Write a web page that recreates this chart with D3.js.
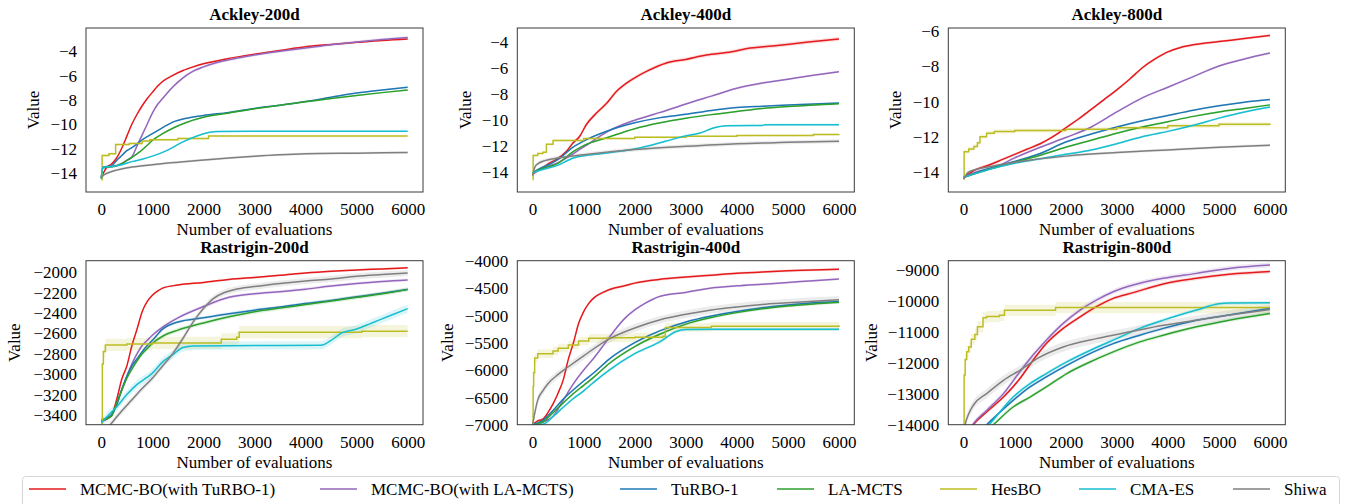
<!DOCTYPE html>
<html><head><meta charset="utf-8">
<script src="https://cdn.jsdelivr.net/npm/d3@7"></script>
<style>
body{margin:0;background:#fff}
svg{display:block}
</style>
</head><body>
<svg id="c" width="1345" height="504"></svg>
<script>
// ---------------- DATA ----------------
const methods = ["MCMC-BO(with TuRBO-1)","MCMC-BO(with LA-MCTS)","TuRBO-1","LA-MCTS","HesBO","CMA-ES","Shiwa"];
const colors  = ["#e41a1c","#9467bd","#1f77b4","#2ca02c","#bcbd22","#17becf","#7f7f7f"];
const xTicks = [0,1000,2000,3000,4000,5000,6000];
const xLim = [-300, 6300];
const titles = ["Ackley-200d","Ackley-400d","Ackley-800d","Rastrigin-200d","Rastrigin-400d","Rastrigin-800d"];

const yTicksA200 = [-14,-12,-10,-8,-6,-4];
const yTicksA400 = [-14,-12,-10,-8,-6,-4];
const yTicksA800 = [-14,-12,-10,-8,-6];
const yTicksR200 = [-3400,-3200,-3000,-2800,-2600,-2400,-2200,-2000];
const yTicksR400 = [-7000,-6500,-6000,-5500,-5000,-4500,-4000];
const yTicksR800 = [-14000,-13000,-12000,-11000,-10000,-9000];

const yLimA200 = [-15.6, -2.1];
const yLimA400 = [-15.56, -2.97];
const yLimA800 = [-15.13, -5.85];
const yLimR200 = [-3494, -1892];
const yLimR400 = [-7000, -4000];
const yLimR800 = [-14000, -8722];

// Ackley-200d
const a200Red    = [[0,-14.4],[100,-13.6],[200,-13.3],[300,-12.8],[400,-12.0],[500,-11.0],[600,-10.0],[700,-9.2],[800,-8.5],[900,-7.9],[1000,-7.4],[1100,-6.9],[1200,-6.5],[1400,-6.0],[1600,-5.6],[1800,-5.3],[2000,-5.05],[2500,-4.6],[3000,-4.25],[3500,-3.95],[4000,-3.65],[4500,-3.45],[5000,-3.28],[5500,-3.12],[6000,-3.0]];
const a200Purple = [[0,-14.4],[30,-13.6],[200,-13.5],[400,-13.3],[500,-13.0],[600,-12.7],[700,-11.8],[800,-10.9],[900,-10.0],[1000,-9.1],[1100,-8.4],[1200,-7.9],[1300,-7.4],[1400,-6.95],[1600,-6.2],[1800,-5.65],[2000,-5.3],[2300,-4.9],[2700,-4.55],[3000,-4.33],[3500,-4.02],[4000,-3.75],[4500,-3.47],[5000,-3.25],[5500,-3.05],[6000,-2.88]];
const a200Blue   = [[0,-14.5],[30,-13.55],[200,-13.45],[300,-13.0],[400,-12.6],[500,-12.2],[600,-11.95],[800,-11.3],[1000,-10.8],[1200,-10.3],[1400,-9.85],[1700,-9.5],[2000,-9.3],[2500,-9.05],[3000,-8.72],[3500,-8.45],[4000,-8.15],[4500,-7.8],[5000,-7.45],[5500,-7.2],[6000,-6.98]];
const a200Green  = [[0,-14.5],[30,-13.6],[250,-13.5],[400,-13.25],[500,-13.0],[600,-12.75],[750,-12.3],[900,-11.75],[1000,-11.35],[1200,-10.8],[1400,-10.35],[1650,-9.9],[2000,-9.45],[2500,-9.1],[3000,-8.75],[3500,-8.45],[4000,-8.18],[4500,-7.9],[5000,-7.65],[5500,-7.42],[6000,-7.21]];
const a200Olive  = [[0,-14.6],[15,-12.6],[150,-12.45],[280,-11.7],[550,-11.6],[800,-11.4],[950,-11.3],[1500,-11.2],[2100,-11.0],[6000,-11.0]];
const a200Cyan   = [[0,-14.5],[30,-13.55],[200,-13.5],[400,-13.35],[600,-13.1],[800,-12.9],[1000,-12.65],[1300,-12.15],[1600,-11.47],[1900,-10.95],[2100,-10.7],[2300,-10.62],[3000,-10.6],[6000,-10.6]];
const a200Gray   = [[0,-14.4],[50,-14.2],[150,-14.0],[300,-13.8],[600,-13.55],[1000,-13.35],[1500,-13.15],[2000,-12.97],[2500,-12.8],[3000,-12.65],[3500,-12.53],[4000,-12.45],[5000,-12.4],[6000,-12.35]];
const a200Spread = [0.08,0.12,0.06,0.06,0.1,0.06,0.1];

// Ackley-400d
const a400Red    = [[0,-14.2],[100,-13.9],[200,-13.7],[330,-13.35],[470,-13.05],[660,-12.45],[790,-11.8],[920,-11.3],[1050,-10.4],[1250,-9.5],[1450,-8.75],[1640,-7.85],[1840,-7.2],[2040,-6.7],[2230,-6.3],[2620,-5.65],[3000,-5.38],[3400,-5.05],[3900,-4.8],[4200,-4.55],[4700,-4.35],[5400,-4.05],[6000,-3.82]];
const a400Purple = [[0,-14.2],[100,-13.9],[500,-13.3],[1000,-12.1],[1500,-10.85],[2000,-10.05],[2500,-9.45],[3000,-8.8],[3500,-8.2],[4000,-7.6],[4500,-7.2],[5000,-6.9],[5500,-6.6],[6000,-6.32]];
const a400Blue   = [[0,-14.1],[100,-13.85],[500,-13.05],[800,-12.1],[1000,-11.65],[1450,-10.9],[2000,-10.25],[2500,-9.85],[3000,-9.6],[3500,-9.3],[4000,-9.08],[4500,-8.97],[5000,-8.88],[6000,-8.73]];
const a400Green  = [[0,-14.1],[100,-13.9],[500,-13.35],[800,-12.45],[1000,-12.0],[1450,-11.4],[2000,-10.7],[2500,-10.25],[3000,-9.9],[3500,-9.62],[4000,-9.38],[4500,-9.15],[5000,-9.0],[6000,-8.78]];
const a400Olive  = [[0,-14.6],[10,-12.75],[100,-12.6],[200,-12.5],[270,-11.9],[400,-11.6],[1000,-11.45],[2000,-11.35],[3000,-11.28],[4000,-11.22],[5500,-11.15],[6000,-11.12]];
const a400Cyan   = [[0,-14.1],[100,-13.95],[500,-13.5],[800,-12.95],[1450,-12.57],[2100,-12.18],[2600,-11.67],[2950,-11.29],[3280,-11.03],[3540,-10.65],[3800,-10.47],[4500,-10.45],[4550,-10.4],[6000,-10.39]];
const a400Gray   = [[0,-14.3],[50,-13.6],[100,-13.4],[200,-13.2],[500,-12.95],[1000,-12.7],[2000,-12.3],[3000,-12.05],[4000,-11.85],[5000,-11.75],[6000,-11.67]];
const a400Spread = [0.15,0.08,0.06,0.06,0.08,0.08,0.15];

// Ackley-800d
const a800Red    = [[0,-14.3],[250,-13.85],[500,-13.6],[750,-13.3],[1000,-13.0],[1250,-12.7],[1500,-12.4],[1750,-12.0],[2000,-11.5],[2250,-11.0],[2500,-10.45],[2750,-9.9],[3000,-9.35],[3250,-8.75],[3500,-8.1],[3750,-7.6],[4000,-7.2],[4250,-6.95],[4500,-6.8],[5000,-6.62],[5500,-6.45],[6000,-6.27]];
const a800Purple = [[0,-14.3],[300,-13.95],[600,-13.75],[1000,-13.2],[1500,-12.6],[2000,-12.05],[2500,-11.45],[3000,-10.6],[3500,-9.8],[4000,-9.2],[4500,-8.6],[5000,-8.0],[5500,-7.6],[6000,-7.27]];
const a800Blue   = [[0,-14.3],[500,-13.8],[1000,-13.4],[1500,-12.95],[2000,-12.3],[2500,-11.85],[3000,-11.45],[3500,-11.1],[4000,-10.8],[4500,-10.5],[5000,-10.25],[5500,-10.05],[6000,-9.9]];
const a800Green  = [[0,-14.3],[500,-13.85],[1000,-13.45],[1500,-13.05],[2000,-12.6],[2500,-12.2],[3000,-11.8],[3500,-11.45],[4000,-11.15],[4500,-10.85],[5000,-10.6],[5500,-10.4],[6000,-10.2]];
const a800Olive  = [[0,-14.4],[10,-12.85],[100,-12.7],[200,-12.55],[270,-12.35],[320,-12.0],[450,-11.8],[600,-11.7],[1000,-11.65],[2000,-11.58],[3000,-11.5],[4000,-11.38],[5000,-11.3],[6000,-11.25]];
const a800Cyan   = [[0,-14.3],[500,-13.85],[1000,-13.5],[1500,-13.25],[2000,-13.0],[2500,-12.75],[3000,-12.4],[3500,-12.0],[4000,-11.7],[4500,-11.35],[5000,-10.95],[5500,-10.6],[6000,-10.32]];
const a800Gray   = [[0,-14.4],[100,-14.0],[500,-13.7],[1000,-13.45],[2000,-13.1],[3000,-12.9],[4000,-12.75],[5000,-12.6],[6000,-12.48]];
const a800Spread = [0.08,0.06,0.05,0.05,0.12,0.06,0.08];

// Rastrigin-200d
const r200Red    = [[0,-3460],[200,-3400],[300,-3250],[400,-3050],[500,-2920],[600,-2720],[700,-2560],[800,-2390],[900,-2290],[1000,-2230],[1100,-2190],[1200,-2160],[1500,-2130],[2000,-2105],[2500,-2075],[3000,-2055],[3500,-2035],[4000,-2012],[4500,-1995],[5000,-1982],[5500,-1972],[6000,-1962]];
const r200Purple = [[0,-3460],[200,-3400],[300,-3300],[400,-3150],[500,-3020],[600,-2900],[700,-2800],[800,-2720],[900,-2670],[1000,-2620],[1200,-2540],[1500,-2450],[2000,-2340],[2500,-2250],[3000,-2215],[3500,-2195],[4000,-2170],[4500,-2140],[5000,-2115],[5500,-2095],[6000,-2080]];
const r200Blue   = [[0,-3450],[200,-3400],[300,-3300],[400,-3150],[500,-3020],[600,-2920],[700,-2850],[800,-2780],[900,-2720],[1000,-2670],[1200,-2560],[1500,-2490],[2000,-2450],[2500,-2410],[3000,-2375],[3500,-2345],[4000,-2310],[4500,-2280],[5000,-2245],[5500,-2210],[6000,-2172]];
const r200Green  = [[0,-3450],[200,-3410],[300,-3280],[400,-3160],[500,-3040],[600,-2950],[700,-2870],[800,-2800],[900,-2750],[1000,-2700],[1200,-2630],[1500,-2570],[2000,-2500],[2500,-2440],[3000,-2390],[3500,-2355],[4000,-2320],[4500,-2285],[5000,-2250],[5500,-2215],[6000,-2172]];
const r200Olive  = [[0,-3480],[20,-2900],[40,-2780],[80,-2715],[500,-2705],[1000,-2695],[2350,-2660],[2650,-2640],[2700,-2590],[5100,-2580],[6000,-2580]];
const r200Cyan   = [[0,-3480],[100,-3420],[300,-3320],[500,-3200],[700,-3100],[900,-3030],[1000,-2990],[1200,-2880],[1400,-2810],[1600,-2740],[1800,-2725],[2500,-2722],[3500,-2720],[4300,-2718],[4500,-2670],[4700,-2600],[5000,-2560],[5300,-2500],[5600,-2440],[6000,-2360]];
const r200Gray   = [[0,-3620],[200,-3480],[400,-3360],[600,-3250],[800,-3140],[1000,-3040],[1200,-2920],[1400,-2800],[1600,-2650],[1800,-2490],[2000,-2360],[2200,-2260],[2400,-2205],[2600,-2175],[3000,-2145],[3500,-2115],[4000,-2090],[4500,-2070],[5000,-2045],[5500,-2028],[6000,-2012]];
const r200Spread = [10,15,15,20,60,40,30];

// Rastrigin-400d
const r400Red    = [[0,-7000],[100,-6930],[200,-6900],[300,-6780],[400,-6620],[500,-6420],[600,-6180],[700,-5800],[800,-5500],[900,-5150],[1000,-4930],[1100,-4780],[1200,-4680],[1400,-4570],[1600,-4500],[1800,-4460],[2000,-4410],[2500,-4340],[3000,-4300],[3500,-4265],[4000,-4230],[4500,-4205],[5000,-4185],[5500,-4170],[6000,-4155]];
const r400Purple = [[0,-7000],[200,-6950],[400,-6850],[600,-6550],[800,-6250],[1000,-6000],[1200,-5780],[1400,-5530],[1600,-5280],[1800,-5060],[2000,-4900],[2200,-4780],[2500,-4650],[3000,-4580],[3500,-4500],[4000,-4460],[4500,-4430],[5000,-4400],[5500,-4365],[6000,-4337]];
const r400Blue   = [[0,-7000],[200,-6920],[400,-6740],[600,-6530],[800,-6360],[1000,-6200],[1200,-6050],[1500,-5800],[2000,-5500],[2500,-5280],[3000,-5120],[3500,-5010],[4000,-4930],[4500,-4860],[5000,-4810],[5500,-4770],[6000,-4745]];
const r400Green  = [[0,-7000],[200,-6950],[400,-6780],[600,-6600],[800,-6430],[1000,-6280],[1200,-6130],[1500,-5880],[2000,-5570],[2500,-5340],[3000,-5160],[3500,-5040],[4000,-4950],[4500,-4880],[5000,-4830],[5500,-4790],[6000,-4760]];
const r400Olive  = [[0,-7000],[10,-6300],[20,-6050],[40,-5780],[100,-5700],[400,-5650],[500,-5600],[700,-5540],[900,-5470],[1100,-5420],[1500,-5410],[2000,-5400],[2550,-5380],[2600,-5220],[3500,-5200],[6000,-5180]];
const r400Cyan   = [[0,-7000],[200,-6990],[400,-6850],[600,-6680],[800,-6520],[1000,-6380],[1200,-6220],[1500,-6000],[2000,-5700],[2500,-5480],[2800,-5300],[3000,-5260],[3500,-5255],[6000,-5255]];
const r400Gray   = [[0,-7000],[50,-6750],[100,-6550],[200,-6380],[300,-6250],[500,-6080],[700,-5940],[1000,-5740],[1500,-5430],[2000,-5230],[2500,-5080],[3000,-4980],[3500,-4900],[4000,-4845],[4500,-4800],[5000,-4770],[5500,-4740],[6000,-4716]];
const r400Spread = [25,20,20,25,80,30,70];

// Rastrigin-800d
const r800Red    = [[0,-14500],[200,-13980],[450,-13590],[780,-13110],[1100,-12520],[1360,-11925],[1620,-11390],[1950,-10900],[2280,-10530],[2600,-10200],[2930,-9935],[3320,-9750],[3910,-9470],[4560,-9290],[5200,-9160],[6000,-9070]];
const r800Purple = [[0,-14500],[200,-13950],[450,-13540],[780,-13000],[1100,-12300],[1360,-11760],[1620,-11280],[1950,-10740],[2280,-10310],[2600,-9990],[2930,-9720],[3320,-9505],[3910,-9290],[4560,-9130],[5200,-8970],[6000,-8860]];
const r800Blue   = [[0,-14700],[450,-14000],[970,-13215],[1300,-12785],[1620,-12460],[2020,-12090],[2410,-11760],[2930,-11390],[3450,-11120],[3910,-10900],[4560,-10635],[5200,-10470],[6000,-10258]];
const r800Green  = [[0,-14800],[580,-14000],[970,-13430],[1300,-13110],[1620,-12785],[2020,-12355],[2410,-12030],[2930,-11655],[3450,-11335],[3910,-11120],[4560,-10850],[5200,-10635],[6000,-10420]];
const r800Olive  = [[0,-14500],[10,-12400],[30,-11900],[60,-11650],[100,-11500],[150,-11250],[220,-11100],[270,-10850],[380,-10560],[450,-10520],[700,-10480],[800,-10320],[1800,-10230],[6000,-10230]];
const r800Cyan   = [[0,-14800],[500,-14000],[970,-13110],[1300,-12680],[1620,-12355],[2020,-11980],[2410,-11660],[2930,-11280],[3450,-10900],[3910,-10635],[4560,-10310],[5000,-10110],[5200,-10085],[6000,-10075]];
const r800Gray   = [[0,-14300],[30,-14000],[100,-13650],[200,-13350],[450,-13000],[780,-12570],[1100,-12250],[1500,-11820],[1950,-11500],[2600,-11230],[3260,-11010],[3910,-10800],[4560,-10635],[5200,-10470],[6000,-10290]];
const r800Spread = [60,80,50,60,180,60,150];

// ---------------- LAYOUT ----------------
const colLeft = [86, 517.3, 948.3];
const rowTop  = [28, 260.7];
const PW = 337, PH = 164;
const yLabelX = [[33,465,895],[14,447,871]];
const stepSeries = 4; // HesBO drawn as steps
const FONT = "Liberation Serif";
const FS = 17;

const panels = [
  {title:titles[0], ticks:yTicksA200, lim:yLimA200, series:[a200Red,a200Purple,a200Blue,a200Green,a200Olive,a200Cyan,a200Gray], spread:a200Spread},
  {title:titles[1], ticks:yTicksA400, lim:yLimA400, series:[a400Red,a400Purple,a400Blue,a400Green,a400Olive,a400Cyan,a400Gray], spread:a400Spread},
  {title:titles[2], ticks:yTicksA800, lim:yLimA800, series:[a800Red,a800Purple,a800Blue,a800Green,a800Olive,a800Cyan,a800Gray], spread:a800Spread},
  {title:titles[3], ticks:yTicksR200, lim:yLimR200, series:[r200Red,r200Purple,r200Blue,r200Green,r200Olive,r200Cyan,r200Gray], spread:r200Spread},
  {title:titles[4], ticks:yTicksR400, lim:yLimR400, series:[r400Red,r400Purple,r400Blue,r400Green,r400Olive,r400Cyan,r400Gray], spread:r400Spread},
  {title:titles[5], ticks:yTicksR800, lim:yLimR800, series:[r800Red,r800Purple,r800Blue,r800Green,r800Olive,r800Cyan,r800Gray], spread:r800Spread}
];

const svg = d3.select("#c");
const defs = svg.append("defs");

panels.forEach((p, i) => {
  const r = Math.floor(i / 3), c = i % 3;
  const left = colLeft[c], top = rowTop[r];
  const x = d3.scaleLinear().domain(xLim).range([left, left + PW]);
  const y = d3.scaleLinear().domain(p.lim).range([top + PH, top]);
  const g = svg.append("g");

  const clipId = "clip" + i;
  defs.append("clipPath").attr("id", clipId)
    .append("rect").attr("x", left).attr("y", top).attr("width", PW).attr("height", PH);

  const plot = g.append("g").attr("clip-path", `url(#${clipId})`);

  p.series.forEach((s, k) => {
    const curve = k === stepSeries ? d3.curveStepAfter : d3.curveMonotoneX;
    const sp = p.spread[k];
    const area = d3.area().x(d => x(d[0])).y0(d => y(d[1] - sp)).y1(d => y(d[1] + sp)).curve(curve);
    plot.append("path").attr("d", area(s)).attr("fill", colors[k]).attr("fill-opacity", 0.15).attr("stroke", "none");
  });
  p.series.forEach((s, k) => {
    const curve = k === stepSeries ? d3.curveStepAfter : d3.curveMonotoneX;
    const line = d3.line().x(d => x(d[0])).y(d => y(d[1])).curve(curve);
    plot.append("path").attr("d", line(s)).attr("fill", "none").attr("stroke", colors[k]).attr("stroke-width", 1.5);
  });

  g.append("rect").attr("x", left).attr("y", top).attr("width", PW).attr("height", PH)
    .attr("fill", "none").attr("stroke", "#3a3a3a").attr("stroke-width", 1);

  const xa = g.append("g").attr("transform", `translate(0,${top + PH})`)
    .call(d3.axisBottom(x).tickValues(xTicks).tickSize(0).tickPadding(0).tickFormat(d3.format("d")));
  xa.attr("font-family", FONT).attr("font-size", FS);
  xa.select(".domain").remove();
  xa.selectAll("text").attr("y", 23).attr("dy", 0).attr("fill", "#000").attr("font-family", FONT);

  const ya = g.append("g").attr("transform", `translate(${left},0)`)
    .call(d3.axisLeft(y).tickValues(p.ticks).tickSize(0).tickPadding(9).tickFormat(d3.format("d")));
  ya.attr("font-family", FONT).attr("font-size", FS);
  ya.select(".domain").remove();
  ya.selectAll("text").attr("dy", "0.34em").attr("fill", "#000").attr("font-family", FONT);

  g.append("text").attr("x", left + PW / 2).attr("y", top - 8).attr("text-anchor", "middle")
    .attr("font-family", FONT).attr("font-size", FS).attr("font-weight", "bold").text(p.title);
  g.append("text").attr("x", left + PW / 2).attr("y", top + PH + 43).attr("text-anchor", "middle")
    .attr("font-family", FONT).attr("font-size", FS).text("Number of evaluations");
  g.append("text").attr("transform", `translate(${yLabelX[r][c] + 6},${top + PH / 2}) rotate(-90)`)
    .attr("text-anchor", "middle").attr("font-family", FONT).attr("font-size", FS).text("Value");
});

// ---------------- LEGEND ----------------
const legendLineX = [29, 320, 620, 777, 940, 1079, 1233];
const lg = svg.append("g");
lg.append("rect").attr("x", 22.5).attr("y", 476.5).attr("width", 1317).attr("height", 40).attr("rx", 3)
  .attr("fill", "#fff").attr("stroke", "#d6d6d6").attr("stroke-width", 1);
methods.forEach((m, k) => {
  const lx = legendLineX[k];
  lg.append("line").attr("x1", lx).attr("x2", lx + 37).attr("y1", 489).attr("y2", 489)
    .attr("stroke", colors[k]).attr("stroke-width", 1.5);
  lg.append("text").attr("x", lx + 51).attr("y", 489).attr("dy", "0.34em")
    .attr("font-family", FONT).attr("font-size", FS).text(m);
});
</script>
</body></html>
